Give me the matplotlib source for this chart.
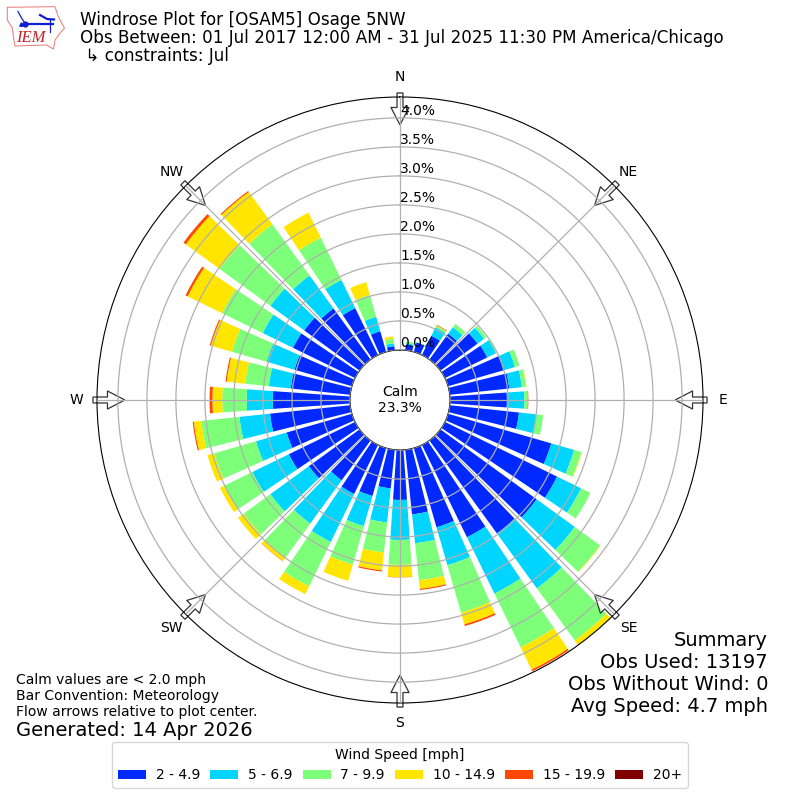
import numpy as np
import matplotlib
matplotlib.use("Agg")
import matplotlib.pyplot as plt
from matplotlib.patches import Polygon

dirs = np.arange(0, 360, 10)
s_2_5 = [0, .10, .17, .37, .55, .79, .81, 1.01, 1.03, .98, 1.20, 1.85, 2.15, 2.05, 1.98, 1.77, 1.42, 1.12,
         .86, .67, .86, .94, .85, 1.08, 1.27, 1.17, 1.39, 1.33, 1.03, 1.03, 1.19, 1.18, 1.09, .90, .37, .07]
s_5_7 = [0, .02, 0, .16, .14, .14, .17, .19, .22, .30, .30, .41, .46, .81, 1.17, 1.08, .68, .50,
         .69, .59, .54, .92, .92, .82, .70, .55, .53, .45, .38, .50, .58, .72, .70, .54, .26, .05]
s_7_10 = [0, .03, .01, .03, .07, .05, .03, .08, .07, .05, .12, .13, .18, .54, 1.11, 1.03, .85, .64,
          .43, .52, .69, .85, .72, .57, .54, .75, .66, .42, .41, .62, .78, 1.08, 1.09, .81, .39, .08]
s_10_15 = [0, 0, 0, .01, 0, 0, 0, 0, .01, .01, 0, .01, 0, .01, .20, .43, .21, .15,
           .21, .31, .29, .15, .08, .12, .08, .12, .13, .17, .32, .38, .66, .72, .69, .48, .23, .04]
s_15_20 = [0, 0, 0, .01, 0, 0, 0, 0, 0, .01, 0, 0, 0, 0, 0, .03, .03, .02,
           .005, .02, 0, 0, .005, 0, 0, 0, .02, .05, .02, .02, .04, .05, .02, 0, 0, 0]
s_20 = [0] * 36
series = [s_2_5, s_5_7, s_7_10, s_10_15, s_15_20, s_20]
speed_labels = ["2 - 4.9", "5 - 6.9", "7 - 9.9", "10 - 14.9", "15 - 19.9", "20+"]
colors = ["#0029ff", "#00d5ff", "#7dff7a", "#ffe500", "#ff4800", "#800000"]
rticks = np.arange(0, 4.01, 0.5)
rlabels = [f"{v:.1f}%" for v in rticks]
compass = ["N", "NE", "E", "SE", "S", "SW", "W", "NW"]
compass_deg = np.arange(0, 360, 45)
RMAX = 4.36

fig = plt.figure(figsize=(8, 8), dpi=100)
ax = fig.add_axes([97 / 800, 97 / 800, 606 / 800, 606 / 800], projection="polar")
ax.set_theta_zero_location("N")
ax.set_theta_direction(-1)
ax.set_rorigin(-50 / 58)
ax.set_rlim(0, RMAX)
bottom = np.zeros(36)
theta = np.deg2rad(dirs)
for vals, col, lab in zip(series, colors, speed_labels):
    vals = np.array(vals, float)
    ax.bar(theta, vals, width=np.deg2rad(8), bottom=bottom, color=col, label=lab, lw=0, zorder=2)
    bottom += vals
ax.set_axisbelow(False)
ax.set_thetagrids(compass_deg, compass, fontsize=10)
ax.set_rgrids(rticks, rlabels, angle=0, fontsize=10)
ax.set_rlim(0, RMAX)
ax.tick_params(axis="x", pad=4)
ax.tick_params(axis="y", pad=0.7)
ax.grid(True, color="#b0b0b0", lw=0.9)
for a in compass_deg:
    ax.annotate("", xy=(np.deg2rad(a), 3.88), xytext=(np.deg2rad(a), 4.43), annotation_clip=False,
                arrowprops=dict(width=4.3, headwidth=13, headlength=12.5, fc=(1, 1, 1, 0.6), ec="#333333", lw=0.9), zorder=2.2)
ax.text(0.5, 0.5, "Calm\n23.3%", transform=ax.transAxes, ha="center", va="center", fontsize=10, zorder=6)

fig.text(80 / 800, 1 - 20 / 800, "Windrose Plot for [OSAM5] Osage 5NW", fontsize=12.03, va="center")
fig.text(80 / 800, 1 - 38 / 800, "Obs Between: 01 Jul 2017 12:00 AM - 31 Jul 2025 11:30 PM America/Chicago", fontsize=12.03, va="center")
fig.text(80 / 800, 1 - 56 / 800, " \u21b3 constraints: Jul", fontsize=12.03, va="center")
for y, t in zip([640, 662, 684, 706], ["Summary", "Obs Used: 13197", "Obs Without Wind: 0", "Avg Speed: 4.7 mph"]):
    fig.text(768 / 800, 1 - y / 800, t, fontsize=14, ha="right", va="center")
for y, t in zip([680, 696, 712], ["Calm values are < 2.0 mph", "Bar Convention: Meteorology", "Flow arrows relative to plot center."]):
    fig.text(16 / 800, 1 - y / 800, t, fontsize=10, va="center")
fig.text(16 / 800, 1 - 730 / 800, "Generated: 14 Apr 2026", fontsize=14, va="center")
h, l = ax.get_legend_handles_labels()
fig.legend(h, l, title="Wind Speed [mph]", ncol=6, loc="center", bbox_to_anchor=(0.5, 1 - 765 / 800),
           fontsize=10, title_fontsize=10, columnspacing=0.75, handletextpad=0.7)

# IEM logo
ov = fig.add_axes([0, 0, 1, 1], facecolor="none")
ov.set_xlim(0, 800); ov.set_ylim(800, 0); ov.axis("off")
iowa = [(7.3, 7.3), (55, 6.7), (58, 16), (64.5, 28), (60, 33), (55, 40), (53.5, 49), (46.5, 45), (15, 46), (13.3, 36.5), (12.3, 28), (7.3, 20)]
ov.add_patch(Polygon(iowa, closed=True, fc="white", ec="#e87878", lw=0.7))
ov.plot([25, 53], [23.5, 23.5], color="#1020d0", lw=1.6)
ov.plot([25, 21, 18], [23.5, 17, 11.5], color="#1020d0", lw=0.9)
ov.plot([50, 50], [19, 32], color="#1020d0", lw=0.9)
ov.plot([40, 47, 54], [15, 19, 19.5], color="#1020d0", lw=1.6)
ov.plot([25], [23.5], "o", color="#1020d0", ms=3.5)
ov.plot([20.5], [24], "^", color="#1020d0", ms=2.5)
ov.text(30.5, 38, "IEM", family="Liberation Serif", style="italic", color="#c82028", fontsize=12, ha="center", va="center")
fig.savefig("out.png", dpi=100)
